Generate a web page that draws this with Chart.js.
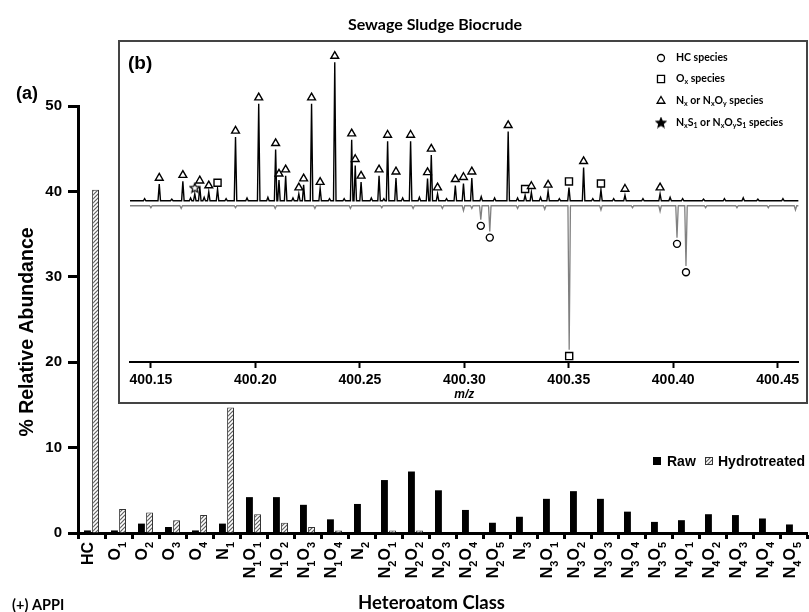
<!DOCTYPE html>
<html>
<head>
<meta charset="utf-8">
<script src="https://cdn.jsdelivr.net/npm/chart.js@4.4.0/dist/chart.umd.min.js"></script>
<style>
  html, body { margin: 0; padding: 0; background: #fff; }
  #wrap { position: relative; width: 809px; height: 612px; }
  #main { position: absolute; left: 0; top: 0; }
  #inset { position: absolute; left: 118px; top: 40px; width: 690px; height: 364px;
           border: 2px solid #444; box-sizing: border-box; background: #fff; }
  #spec { display: block; }
</style>
</head>
<body>
<div id="wrap">
  <canvas id="main" width="809" height="612"></canvas>
  <div id="inset"><canvas id="spec" width="686" height="360"></canvas></div>
</div>
<script>
// ---- (a) heteroatom class distribution ----
var classes = ['HC','O1','O2','O3','O4','N1','N1O1','N1O2','N1O3','N1O4','N2','N2O1','N2O2','N2O3','N2O4','N2O5',
               'N3','N3O1','N3O2','N3O3','N3O4','N3O5','N4O1','N4O2','N4O3','N4O4','N4O5'];
var raw   = [0.3, 0.3, 1.1, 0.7, 0.3, 1.1, 4.2, 4.2, 3.3, 1.6, 3.4, 6.2, 7.2, 5.0, 2.7, 1.2,
             1.9, 4.0, 4.9, 4.0, 2.5, 1.3, 1.5, 2.2, 2.1, 1.7, 1.0];
var hydro = [40.2, 2.8, 2.4, 1.5, 2.1, 14.7, 2.2, 1.2, 0.7, 0.3, 0.05, 0.3, 0.3, null, null, null,
             null, null, null, null, null, null, null, null, null, null, null];
var yTicks = [0, 10, 20, 30, 40, 50];

// ---- (b) mass spectrum, m/z 400.14 - 400.46 ----
var mzMin = 400.14, mzMax = 400.46;
var mzTicks = [400.15, 400.20, 400.25, 400.30, 400.35, 400.40, 400.45];
// raw biocrude (upper trace): position, relative intensity, class (N = NxOy, O = Ox, S = NxS1, '' = unlabelled)
var upperMz  = [400.1540, 400.1653, 400.1710, 400.1734, 400.1777, 400.1819, 400.1905, 400.2016, 400.2097, 400.2113,
                400.2145, 400.2208, 400.2231, 400.2269, 400.2310, 400.2380, 400.2461, 400.2478, 400.2506, 400.2592,
                400.2633, 400.2673, 400.2743, 400.2824, 400.2842, 400.2872, 400.2957, 400.2996, 400.3036, 400.3081,
                400.3210, 400.3291, 400.3321, 400.3401, 400.3501, 400.3571, 400.3654, 400.3769, 400.3937,
                400.1470, 400.1600, 400.1690, 400.1755, 400.1860, 400.1960, 400.2060, 400.2180, 400.2355, 400.2425,
                400.2555, 400.2615, 400.2705, 400.2785, 400.2915, 400.3145, 400.3255, 400.3365, 400.3455, 400.3615,
                400.3715, 400.3855, 400.3985, 400.4045, 400.4145, 400.4245, 400.4335, 400.4405, 400.4525];
var upperInt = [12, 14, 5, 10, 6.5, 8.5, 46, 70, 37, 15,
                18, 5, 11.5, 70, 9, 100, 44, 25.5, 13.5, 18,
                43, 16.5, 43, 16, 33, 5, 11, 12.5, 16.5, 3,
                50, 4, 6, 7, 9.5, 24, 8, 4, 5,
                1.5, 1.2, 2, 2.5, 1.5, 2, 2.5, 2, 1.5, 1.5,
                2, 1.5, 2, 2.5, 1.5, 2, 2, 2.5, 1.5, 1.5,
                1.5, 1.5, 2.5, 1.5, 1.2, 1.5, 2.2, 1.2, 1.5];
var upperCls = ['N','N','S','N','N','O','N','N','N','N',
                'N','N','N','N','N','N','N','N','N','N',
                'N','N','N','N','N','N','N','N','N','',
                'N','O','N','N','O','N','O','N','N',
                '','','','','','','','','','',
                '','','','','','','','','','',
                '','','','','','','','',''];
// hydrotreated (lower, inverted trace)
var lowerMz  = [400.3079, 400.3122, 400.3502, 400.4018, 400.4061, 400.2996, 400.3654, 400.3937,
                400.1500, 400.1645, 400.1905, 400.2095, 400.2285, 400.2455, 400.2605, 400.2755, 400.2895,
                400.3036, 400.3255, 400.3385, 400.3805, 400.4155, 400.4305, 400.4455, 400.4585];
var lowerInt = [10, 18.5, 104, 23, 43.5, 3.5, 3, 4,
                1.5, 2, 1.5, 2, 2, 2, 1.5, 2, 2,
                2, 2, 2.5, 1.5, 1.5, 1.5, 1.5, 3];
var lowerCls = ['C','C','O','C','C','','','',
                '','','','','','','','','',
                '','','','','','','',''];

// ---------------------------------------------------------------
function hatchPattern() {
  var c = document.createElement('canvas');
  c.width = 4; c.height = 4;
  var g = c.getContext('2d');
  g.fillStyle = '#fff'; g.fillRect(0, 0, 4, 4);
  g.strokeStyle = '#5f5f5f'; g.lineWidth = 1.2;
  g.beginPath();
  g.moveTo(0, 4); g.lineTo(4, 0);
  g.moveTo(-1, 1); g.lineTo(1, -1);
  g.moveTo(3, 5); g.lineTo(5, 3);
  g.stroke();
  return g.createPattern(c, 'repeat');
}
var hatch = hatchPattern();

function starImage(size, filled) {
  var c = document.createElement('canvas');
  c.width = size; c.height = size;
  var g = c.getContext('2d');
  var cx = size / 2, cy = size / 2 + 0.5, R = size / 2 - 1, r = R * 0.45;
  g.beginPath();
  for (var k = 0; k < 10; k++) {
    var a = -Math.PI / 2 + k * Math.PI / 5;
    var rr = k % 2 ? r : R;
    g.lineTo(cx + rr * Math.cos(a), cy + rr * Math.sin(a));
  }
  g.closePath();
  g.fillStyle = filled ? '#000' : '#fff';
  g.fill();
  g.lineWidth = 1.2; g.strokeStyle = '#000';
  g.stroke();
  return c;
}

// split "N1O2" into [["N",false],["1",true],["O",false],["2",true]]
function splitFormula(s) {
  var parts = [];
  s.replace(/([A-Za-z]+)|(\d+)/g, function (m, a, d) { parts.push([m, !!d]); });
  return parts;
}

function drawParts(ctx, parts, x, y, mainFont, subFont, subShift) {
  parts.forEach(function (p) {
    ctx.font = p[1] ? subFont : mainFont;
    ctx.fillText(p[0], x, p[1] ? y + subShift : y);
    x += ctx.measureText(p[0]).width;
  });
  return x;
}

// ---- main chart ----
var mainDecor = {
  id: 'mainDecor',
  afterDraw: function (chart) {
    var ctx = chart.ctx, xs = chart.scales.x;
    ctx.save();
    ctx.fillStyle = '#000';

    // rotated class labels with subscripts
    var mainFont = 'bold 16px Arial', subFont = 'bold 11px Arial';
    classes.forEach(function (c, i) {
      var parts = splitFormula(c), total = 0;
      parts.forEach(function (p) { ctx.font = p[1] ? subFont : mainFont; total += ctx.measureText(p[0]).width; });
      ctx.save();
      ctx.translate(xs.getPixelForValue(i) - 2.5, xs.top + 9);
      ctx.rotate(-Math.PI / 2);
      ctx.textBaseline = 'middle';
      ctx.textAlign = 'left';
      drawParts(ctx, parts, -total, 0, mainFont, subFont, 7);
      ctx.restore();
    });

    // y title
    ctx.save();
    ctx.translate(33, 332);
    ctx.rotate(-Math.PI / 2);
    ctx.font = 'bold 19.5px Arial';
    ctx.textAlign = 'center';
    ctx.textBaseline = 'alphabetic';
    ctx.fillText('% Relative Abundance', 0, 0);
    ctx.restore();

    ctx.textBaseline = 'alphabetic';
    ctx.textAlign = 'left';
    ctx.font = 'bold 18px Arial';
    ctx.fillText('(a)', 16, 99);

    ctx.textAlign = 'center';
    ctx.font = 'bold 16px Lato';
    ctx.fillText('Sewage Sludge Biocrude', 435, 30);
    ctx.font = 'bold 18.5px Lato';
    ctx.fillText('Heteroatom Class', 431.5, 609);
    ctx.textAlign = 'left';
    ctx.font = 'bold 14.5px Lato';
    ctx.fillText('(+) APPI', 12, 610);

    // legend
    ctx.fillStyle = '#000';
    ctx.fillRect(653, 457, 8, 8);
    ctx.fillStyle = hatch;
    ctx.fillRect(705, 457, 8, 8);
    ctx.strokeStyle = '#333'; ctx.lineWidth = 1;
    ctx.strokeRect(705.5, 457.5, 7, 7);
    ctx.fillStyle = '#000';
    ctx.font = 'bold 14px Arial';
    ctx.fillText('Raw', 667, 466);
    ctx.fillText('Hydrotreated', 718, 466);
    ctx.restore();
  }
};

new Chart(document.getElementById('main'), {
  type: 'bar',
  data: {
    labels: classes,
    datasets: [
      { label: 'Raw', data: raw, backgroundColor: '#000', borderWidth: 0,
        categoryPercentage: 0.6, barPercentage: 0.85 },
      { label: 'Hydrotreated', data: hydro, backgroundColor: hatch, borderColor: '#333', borderWidth: 1,
        borderSkipped: 'start', categoryPercentage: 0.6, barPercentage: 0.85 }
    ]
  },
  options: {
    responsive: false,
    animation: false,
    layout: { padding: { top: 106, right: 2, left: 0, bottom: 0 } },
    plugins: { legend: { display: false }, tooltip: { enabled: false } },
    scales: {
      x: {
        ticks: { display: false },
        grid: { drawOnChartArea: false, drawTicks: true, tickLength: 6, tickWidth: 3, tickColor: '#000', offset: true },
        border: { display: true, color: '#000', width: 3 },
        afterFit: function (s) { s.height = 79; }
      },
      y: {
        min: 0, max: 50,
        afterBuildTicks: function (s) { s.ticks = yTicks.map(function (v) { return { value: v }; }); },
        ticks: { color: '#000', padding: 6, font: { family: 'Arial', weight: 'bold', size: 15 } },
        grid: { drawOnChartArea: false, tickLength: 10, tickWidth: 3, tickColor: '#000' },
        border: { color: '#000', width: 3 },
        afterFit: function (s) { s.width = 78; }
      }
    }
  },
  plugins: [mainDecor]
});

// ---- inset spectrum ----
var halfWidth = 0.0006, markerGap = 4.5;
var upperBase = 0, lowerBase = -3.6;

function buildTrace(mz, inten, base, sign) {
  var order = mz.map(function (m, i) { return i; }).sort(function (a, b) { return mz[a] - mz[b]; });
  var pts = [{ x: mzMin, y: base }];
  order.forEach(function (i) {
    pts.push({ x: mz[i] - halfWidth, y: base });
    pts.push({ x: mz[i], y: base + sign * inten[i] });
    pts.push({ x: mz[i] + halfWidth, y: base });
  });
  pts.push({ x: mzMax, y: base });
  return pts;
}
function markers(mz, inten, cls, want, base, sign) {
  var out = [];
  mz.forEach(function (m, i) {
    if (cls[i] === want) out.push({ x: m, y: base + sign * (inten[i] + markerGap) });
  });
  return out;
}

var starPlot = starImage(12, false), starLegend = starImage(12, true);
function markerSet(data, style, radius) {
  return { data: data, pointStyle: style, pointRadius: radius, pointBorderColor: '#000',
           pointBackgroundColor: '#fff', pointBorderWidth: 1.4, showLine: false };
}

var legendRows = [
  { style: 'circle', y: 58, parts: [['HC species', false]] },
  { style: 'rect', y: 79, parts: [['O', false], ['x', true], [' species', false]] },
  { style: 'triangle', y: 101, parts: [['N', false], ['x', true], [' or N', false], ['x', true], ['O', false], ['y', true], [' species', false]] },
  { style: 'star', y: 123, parts: [['N', false], ['x', true], ['S', false], ['1', true], [' or N', false], ['x', true],
                                   ['O', false], ['y', true], ['S', false], ['1', true], [' species', false]] }
];

var insetDecor = {
  id: 'insetDecor',
  afterDraw: function (chart) {
    var ctx = chart.ctx;
    var ox = 120, oy = 42; // page offset of this canvas
    ctx.save();
    ctx.fillStyle = '#000';
    ctx.font = 'bold 19px Arial';
    ctx.textBaseline = 'alphabetic';
    ctx.fillText('(b)', 128 - ox, 69 - oy);

    legendRows.forEach(function (row) {
      var cx = 661 - ox, cy = row.y - oy;
      if (row.style === 'star') {
        ctx.drawImage(starLegend, cx - 6, cy - 6.5);
      } else {
        ctx.strokeStyle = '#000'; ctx.fillStyle = '#fff'; ctx.lineWidth = 1.3;
        Chart.helpers.drawPoint(ctx, { pointStyle: row.style, radius: row.style === 'rect' ? 5 : (row.style === 'triangle' ? 4.5 : 3.5), borderWidth: 1.3 }, cx, cy);
      }
      ctx.fillStyle = '#000';
      ctx.textBaseline = 'middle';
      drawParts(ctx, row.parts, 676 - ox, cy, 'bold 10.5px Lato', 'bold 7px Lato', 2.5);
    });
    ctx.restore();
  }
};

new Chart(document.getElementById('spec'), {
  type: 'scatter',
  data: {
    datasets: [
      markerSet(markers(upperMz, upperInt, upperCls, 'N', upperBase, 1), 'triangle', 4.5),
      markerSet(markers(upperMz, upperInt, upperCls, 'O', upperBase, 1), 'rect', 5),
      markerSet(markers(upperMz, upperInt, upperCls, 'S', upperBase, 1), starPlot, 6),
      markerSet(markers(lowerMz, lowerInt, lowerCls, 'C', lowerBase, -1), 'circle', 3.5),
      markerSet(markers(lowerMz, lowerInt, lowerCls, 'O', lowerBase, -1), 'rect', 5),
      { label: 'Raw', data: buildTrace(upperMz, upperInt, upperBase, 1), showLine: true, borderColor: '#000',
        borderWidth: 1.4, pointRadius: 0, tension: 0 },
      { label: 'Hydrotreated', data: buildTrace(lowerMz, lowerInt, lowerBase, -1), showLine: true, borderColor: '#808080',
        borderWidth: 1.3, pointRadius: 0, tension: 0 }
    ]
  },
  options: {
    responsive: false,
    animation: false,
    layout: { padding: { left: 10, right: 5, top: 4, bottom: 0 } },
    plugins: { legend: { display: false }, tooltip: { enabled: false } },
    scales: {
      x: {
        type: 'linear', min: mzMin, max: mzMax,
        afterBuildTicks: function (s) { s.ticks = mzTicks.map(function (v) { return { value: v }; }); },
        ticks: { color: '#000', padding: 4, maxRotation: 0, autoSkip: false,
                 font: { family: 'Arial', weight: 'bold', size: 14 },
                 callback: function (v) { return Number(v).toFixed(2); } },
        grid: { drawOnChartArea: false, tickLength: 6, tickWidth: 2, tickColor: '#000' },
        border: { color: '#000', width: 2 },
        title: { display: true, text: 'm/z', color: '#000', padding: 0,
                 font: { family: 'Arial', style: 'italic', weight: 'bold', size: 12 } },
        afterFit: function (s) { s.height = 40; }
      },
      y: { display: false, min: -116.4, max: 109.3 }
    }
  },
  plugins: [insetDecor]
});
</script>
</body>
</html>
